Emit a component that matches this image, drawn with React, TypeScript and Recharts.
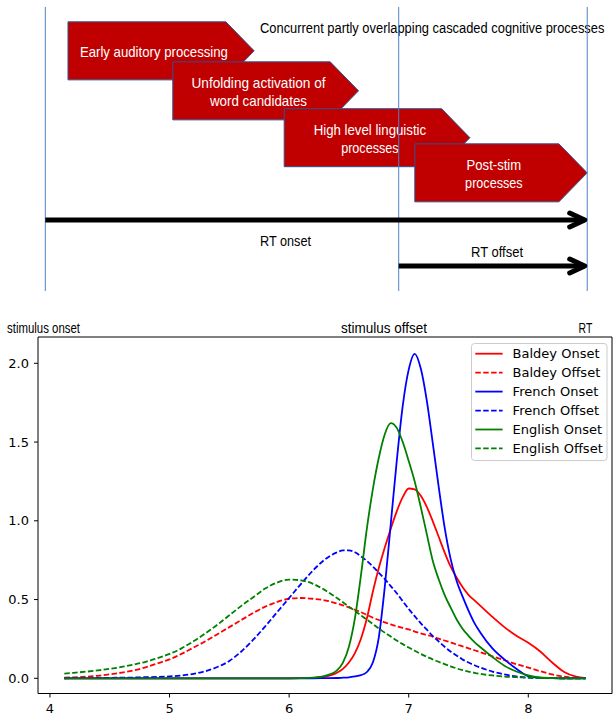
import React from 'react';
import {
  ComposedChart,
  LineChart,
  Line,
  XAxis,
  YAxis,
  Legend,
  ReferenceArea,
  ReferenceLine,
} from 'recharts';

// log RT grid and density estimates
const rt = [
  4.12, 4.2, 4.3, 4.4, 4.5, 4.6, 4.7, 4.8, 4.9, 5.0,
  5.1, 5.2, 5.3, 5.4, 5.5, 5.6, 5.7, 5.8, 5.9, 6.0,
  6.1, 6.2, 6.3, 6.4, 6.45, 6.5, 6.55, 6.6, 6.65, 6.7,
  6.75, 6.8, 6.85, 6.9, 6.95, 7.0, 7.05, 7.1, 7.15, 7.2,
  7.25, 7.3, 7.35, 7.4, 7.45, 7.5, 7.55, 7.6, 7.7, 7.8,
  7.9, 8.0, 8.1, 8.2, 8.3, 8.4, 8.48,
];
const baldeyOnset = [
  0, 0, 0, 0, 0, 0, 0, 0, 0, 0,
  0, 0, 0, 0, 0, 0, 0, 0, 0, 0,
  0.0005, 0.002, 0.01, 0.035, 0.06, 0.1, 0.16, 0.25, 0.38, 0.55,
  0.7, 0.83, 0.95, 1.06, 1.15, 1.205, 1.2, 1.16, 1.09, 1.0,
  0.9, 0.8, 0.71, 0.64, 0.58, 0.53, 0.495, 0.46, 0.39, 0.325,
  0.27, 0.225, 0.17, 0.1, 0.04, 0.01, 0.001,
];
const baldeyOffset = [
  0.004, 0.006, 0.01, 0.016, 0.025, 0.036, 0.05, 0.07, 0.095, 0.12,
  0.155, 0.195, 0.235, 0.28, 0.325, 0.37, 0.415, 0.455, 0.485, 0.505,
  0.51, 0.505, 0.495, 0.475, 0.463, 0.45, 0.435, 0.42, 0.403, 0.385,
  0.37, 0.355, 0.342, 0.33, 0.32, 0.31, 0.297, 0.285, 0.275, 0.265,
  0.252, 0.24, 0.228, 0.215, 0.203, 0.19, 0.178, 0.165, 0.14, 0.115,
  0.09, 0.068, 0.045, 0.025, 0.01, 0.003, 0.001,
];
const frenchOnset = [
  0, 0, 0, 0, 0, 0, 0, 0, 0, 0,
  0, 0, 0, 0, 0, 0, 0, 0, 0, 0,
  0, 0, 0.001, 0.002, 0.004, 0.006, 0.012, 0.02, 0.04, 0.1,
  0.26, 0.58, 0.98, 1.38, 1.73, 1.96, 2.06, 1.97, 1.77, 1.5,
  1.22, 0.96, 0.76, 0.62, 0.52, 0.43, 0.35, 0.29, 0.19, 0.12,
  0.06, 0.014, 0.003, 0.0005, 0, 0, 0,
];
const frenchOffset = [
  0, 0.001, 0.001, 0.002, 0.003, 0.004, 0.005, 0.007, 0.009, 0.012,
  0.018, 0.028, 0.045, 0.072, 0.11, 0.17, 0.245, 0.33, 0.42, 0.51,
  0.6, 0.685, 0.755, 0.8, 0.812, 0.812, 0.8, 0.775, 0.745, 0.71,
  0.67, 0.63, 0.585, 0.54, 0.49, 0.44, 0.395, 0.35, 0.31, 0.27,
  0.235, 0.2, 0.17, 0.145, 0.12, 0.1, 0.083, 0.068, 0.043, 0.025,
  0.012, 0.005, 0.002, 0.001, 0, 0, 0,
];
const englishOnset = [
  0, 0, 0, 0, 0, 0, 0, 0, 0, 0,
  0, 0, 0, 0, 0, 0, 0, 0, 0, 0,
  0.001, 0.004, 0.015, 0.05, 0.1, 0.2, 0.38, 0.65, 0.95, 1.2,
  1.4, 1.55, 1.62, 1.59, 1.5, 1.38, 1.25, 1.09, 0.92, 0.75,
  0.63, 0.53, 0.45, 0.375, 0.315, 0.27, 0.23, 0.197, 0.135, 0.08,
  0.043, 0.018, 0.005, 0.001, 0, 0, 0,
];
const englishOffset = [
  0.03, 0.035, 0.042, 0.05, 0.06, 0.072, 0.087, 0.105, 0.128, 0.155,
  0.19, 0.235, 0.285, 0.34, 0.4, 0.46, 0.515, 0.57, 0.608, 0.627,
  0.622, 0.6, 0.56, 0.51, 0.483, 0.455, 0.428, 0.4, 0.372, 0.345,
  0.317, 0.29, 0.265, 0.24, 0.217, 0.195, 0.175, 0.155, 0.137, 0.12,
  0.105, 0.09, 0.076, 0.063, 0.052, 0.043, 0.035, 0.028, 0.018, 0.011,
  0.007, 0.004, 0.002, 0.001, 0, 0, 0,
];

const xTicks = [4, 5, 6, 7, 8];
const yTicks = [0, 0.5, 1.0, 1.5, 2.0];

// timeline diagram, time relative to stimulus (onset = 0, offset = 1)
const eventLabels = ['stimulus onset', 'stimulus offset', 'RT'];
const eventTimes = [0, 1, 1.5334];
const stageLabels = [
  ['Early auditory processing'],
  ['Unfolding activation of', 'word candidates'],
  ['High level linguistic', 'processes'],
  ['Post-stim', 'processes'],
];
const stageStart = [0.0642, 0.3608, 0.676, 1.0456];
const stageEnd = [0.591, 0.8863, 1.2015, 1.5334];
const stageLane = [50.85, 90.85, 137.7, 172.85];
const arrowLabels = ['RT onset', 'RT offset'];
const arrowFrom = [0, 1];
const arrowLane = [220, 266];
const diagramTitle = 'Concurrent partly overlapping cascaded cognitive processes';

// rendered text widths (the original uses a narrow office font)
const stageTextWidth = [[148], [134, 97], [112.5, 57.5], [54.5, 57.5]];

const series = [
  { key: 'baldeyOnset', name: 'Baldey Onset', color: '#ff0000', dash: undefined },
  { key: 'baldeyOffset', name: 'Baldey Offset', color: '#ff0000', dash: '5.5 2.4' },
  { key: 'frenchOnset', name: 'French Onset', color: '#0000ff', dash: undefined },
  { key: 'frenchOffset', name: 'French Offset', color: '#0000ff', dash: '5.5 2.4' },
  { key: 'englishOnset', name: 'English Onset', color: '#008000', dash: undefined },
  { key: 'englishOffset', name: 'English Offset', color: '#008000', dash: '5.5 2.4' },
];

const densityRows = rt.map((x, i) => ({
  x,
  baldeyOnset: baldeyOnset[i],
  baldeyOffset: baldeyOffset[i],
  frenchOnset: frenchOnset[i],
  frenchOffset: frenchOffset[i],
  englishOnset: englishOnset[i],
  englishOffset: englishOffset[i],
}));
const eventRows = eventTimes.map((t) => ({ t }));

const office = "'Liberation Sans', sans-serif";
const mpl = "'DejaVu Sans', sans-serif";
const TIP = 28.3;
const HALF = 29;

const Narrow = (props: any) => {
  const { w, size = 15, children, ...rest } = props;
  return (
    <text dy="0.35em" fontSize={size} fontFamily={office} textLength={w} lengthAdjust="spacingAndGlyphs" {...rest}>
      {children}
    </text>
  );
};

const stageShape = (lines: string[], widths: number[]) => (p: any) => {
  const { x, y, width, height } = p;
  const body = width - TIP;
  const cx = x + body / 2 + 7;
  const cy = y + height / 2;
  return (
    <g>
      <path
        d={`M${x},${y}H${x + body}L${x + width},${cy}L${x + body},${y + height}H${x}Z`}
        fill="#c00000"
        stroke="#2f528f"
        strokeWidth={1}
      />
      {lines.map((ln, i) => (
        <Narrow
          key={ln}
          w={widths[i]}
          x={cx - widths[i] / 2}
          y={cy + 0.8 + (i - (lines.length - 1) / 2) * 17.7}
          fill="#ffffff"
        >
          {ln}
        </Narrow>
      ))}
    </g>
  );
};

const arrowShape = (p: any) => {
  const { x1, y1, x2 } = p;
  const tip = x2 - 2.5;
  return (
    <g>
      <line x1={x1} y1={y1} x2={tip - 1} y2={y1} stroke="#000" strokeWidth={5} />
      <polyline
        points={`${tip - 15},${y1 - 7} ${tip},${y1} ${tip - 15},${y1 + 7}`}
        fill="none"
        stroke="#000"
        strokeWidth={5}
        strokeLinecap="round"
        strokeLinejoin="round"
      />
    </g>
  );
};

const renderLegend = () => (
  <svg width={137} height={118} style={{ display: 'block' }}>
    <rect x={0.5} y={0.5} width={135.5} height={117} rx={3} fill="#ffffff" fillOpacity={0.8} stroke="#cccccc" />
    {series.map((s, i) => {
      const y = 10.7 + i * 18.95;
      return (
        <g key={s.key}>
          <line x1={4.3} x2={31.6} y1={y} y2={y} stroke={s.color} strokeWidth={1.8} strokeDasharray={s.dash} />
          <text x={41.6} y={y} dy="0.36em" fontSize={13} fontFamily={mpl} fill="#000">
            {s.name}
          </text>
        </g>
      );
    })}
  </svg>
);

const Diagram = () => (
  <ComposedChart width={613} height={300} data={eventRows} margin={{ top: 0, right: 0, bottom: 0, left: 0 }}>
    <XAxis type="number" dataKey="t" domain={[-0.12818, 1.60639]} hide allowDataOverflow />
    <YAxis type="number" domain={[0, 300]} reversed hide allowDataOverflow />
    {stageLabels.map((lines, i) => (
      <ReferenceArea
        key={lines.join(' ')}
        x1={stageStart[i]}
        x2={stageEnd[i]}
        y1={stageLane[i] - HALF}
        y2={stageLane[i] + HALF}
        ifOverflow="visible"
        shape={stageShape(lines, stageTextWidth[i])}
      />
    ))}
    {eventTimes.map((t) => (
      <ReferenceLine
        key={t}
        segment={[{ x: t, y: 7 }, { x: t, y: 291 }]}
        stroke="#4f81c7"
        strokeWidth={1}
        ifOverflow="visible"
      />
    ))}
    {arrowLabels.map((lab, i) => (
      <ReferenceLine
        key={lab}
        segment={[{ x: arrowFrom[i], y: arrowLane[i] }, { x: eventTimes[2], y: arrowLane[i] }]}
        ifOverflow="visible"
        shape={arrowShape}
      />
    ))}
    <text
      transform="translate(260 27.3) scale(0.86 1)"
      dy="0.35em"
      fontSize={15}
      fontFamily={office}
      fill="#000"
    >
      {diagramTitle}
    </text>
    <Narrow x={260} y={240.7} w={51} fill="#000">
      {arrowLabels[0]}
    </Narrow>
    <Narrow x={471} y={251.7} w={52} fill="#000">
      {arrowLabels[1]}
    </Narrow>
  </ComposedChart>
);

const Densities = () => (
  <LineChart width={613} height={415} data={densityRows} margin={{ top: 37, right: 1, bottom: 0, left: 0 }}>
    <XAxis
      type="number"
      dataKey="x"
      domain={[3.9, 8.7]}
      ticks={xTicks}
      interval={0}
      height={21.5}
      tickSize={4}
      tickMargin={6}
      axisLine={false}
      tickLine={{ stroke: '#000' }}
      tick={{ fill: '#000', fontSize: 13, fontFamily: mpl }}
      allowDataOverflow
    />
    <YAxis
      type="number"
      domain={[-0.0965, 2.167]}
      ticks={yTicks}
      interval={0}
      width={38}
      tickSize={4}
      tickMargin={5}
      axisLine={false}
      tickLine={{ stroke: '#000' }}
      tick={{ fill: '#000', fontSize: 13, fontFamily: mpl }}
      tickFormatter={(v: number) => v.toFixed(1)}
      allowDataOverflow
    />
    <ReferenceArea x1={3.9} x2={8.7} y1={-0.0965} y2={2.167} fill="none" stroke="#000" strokeWidth={1} ifOverflow="visible" />
    {series.map((s) => (
      <Line
        key={s.key}
        dataKey={s.key}
        name={s.name}
        type="monotone"
        stroke={s.color}
        strokeWidth={1.8}
        strokeDasharray={s.dash}
        dot={false}
        isAnimationActive={false}
      />
    ))}
    <Legend
      content={renderLegend}
      layout="vertical"
      align="center"
      verticalAlign="middle"
      wrapperStyle={{ left: 470.7, top: 43.3, width: 137, height: 118 }}
    />
    <Narrow x={7} y={28} w={73} size={14} fill="#000">
      {eventLabels[0]}
    </Narrow>
    <Narrow x={341} y={28} w={86} size={14} fill="#000">
      {eventLabels[1]}
    </Narrow>
    <Narrow x={578.6} y={28} w={13.7} size={14} fill="#000">
      {eventLabels[2]}
    </Narrow>
  </LineChart>
);

export default function App() {
  return (
    <div
      style={{
        position: 'absolute',
        left: 0,
        top: 0,
        width: 613,
        height: 715,
        overflow: 'hidden',
        background: '#ffffff',
      }}
    >
      <div style={{ position: 'absolute', left: 0, top: 0 }}>
        <Diagram />
      </div>
      <div style={{ position: 'absolute', left: 0, top: 300 }}>
        <Densities />
      </div>
    </div>
  );
}
